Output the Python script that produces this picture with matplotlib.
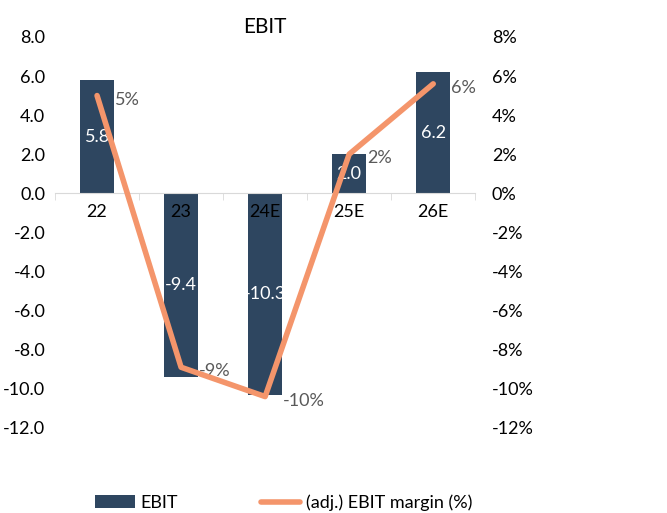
import numpy as np
import matplotlib.pyplot as plt
from matplotlib.ticker import FixedLocator

# Data
years = ["22", "23", "24E", "25E", "26E"]
ebit = [5.8, -9.4, -10.3, 2.0, 6.2]
margin = [5.0, -8.9, -10.4, 2.0, 5.6]   # in %

bar_color = "#2E4660"
line_color = "#F4956B"
text_color = "#000000"

plt.rcParams['font.family'] = ['Lato', 'DejaVu Sans']

fig = plt.figure(figsize=(6.67, 5.13), dpi=100)
ax = fig.add_axes([0.0825, 0.166, 0.63, 0.762])
ax2 = ax.twinx()

x = np.arange(len(years))
ax.bar(x, ebit, width=0.4, color=bar_color, label="EBIT", zorder=1)
for xi, v in zip(x, ebit):
    ax.text(xi, v / 2, f"{v:.1f}", ha="center", va="center", color="white", fontsize=13, zorder=3)

ax.set_ylim(-12, 8)
ax.set_yticks(np.arange(-12, 9, 2))
ax.set_yticklabels([f"{t:.1f}" for t in np.arange(-12, 9, 2)])
ax.set_xlim(-0.5, len(years) - 0.5)
ax.set_xticks(x)
ax.set_xticklabels(years)
ax.xaxis.set_zorder(5)
ax.xaxis.set_minor_locator(FixedLocator(np.arange(-0.5, len(years), 1)))
ax.tick_params(axis="x", which="major", length=0, pad=8, labelsize=13, colors=text_color)
ax.tick_params(axis="x", which="minor", length=5, color="#D9D9D9", direction="out")
ax.tick_params(axis="y", length=0, labelsize=13, colors=text_color, pad=7)

ax.spines["bottom"].set_position(("data", 0))
ax.spines["bottom"].set_color("#D9D9D9")
for s in ["top", "left", "right"]:
    ax.spines[s].set_visible(False)

ax2.plot(x, margin, color=line_color, linewidth=4, label="(adj.) EBIT margin (%)", zorder=4,
         solid_capstyle="round")
for xi, m in zip(x, margin):
    ax2.annotate(f"{m:.0f}%", (xi, m), xytext=(13, -3), textcoords="offset points",
                 ha="left", va="center", color="#595959", fontsize=13)
ax2.set_ylim(-12, 8)
ax2.set_yticks(np.arange(-12, 9, 2))
ax2.set_yticklabels([f"{t}%" for t in np.arange(-12, 9, 2)])
ax2.tick_params(axis="y", length=0, labelsize=13, colors=text_color, pad=12)
for s in ["top", "left", "right", "bottom"]:
    ax2.spines[s].set_visible(False)

ax.set_title("EBIT", fontsize=15, color=text_color, pad=3)

h1, l1 = ax.get_legend_handles_labels()
h2, l2 = ax2.get_legend_handles_labels()
fig.legend(h1 + h2, l1 + l2, loc="center", bbox_to_anchor=(0.425, 0.02), ncol=2,
           frameon=False, fontsize=13, columnspacing=4.6, handlelength=2.2, handletextpad=0.3)

fig.savefig("out.png", dpi=100)
